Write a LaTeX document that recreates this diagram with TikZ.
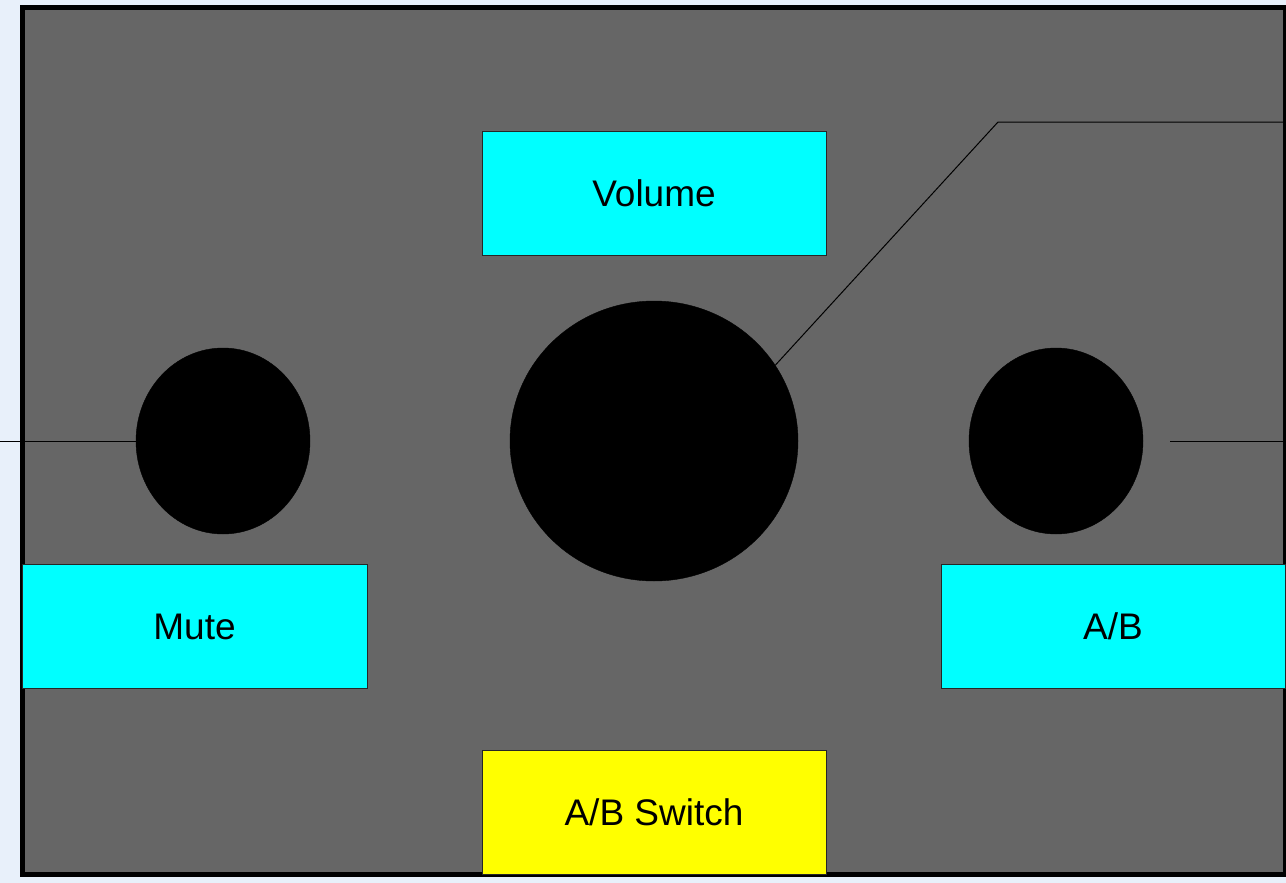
\documentclass[tikz,border=0pt]{standalone}
\usepackage{fontspec}
\setmainfont{Liberation Sans}
\usetikzlibrary{shapes.geometric}
\definecolor{pagebg}{HTML}{E8F0FA}
\definecolor{panelgray}{HTML}{666666}
\definecolor{labelcyan}{HTML}{00FFFF}
\definecolor{labelyellow}{HTML}{FFFF00}
\begin{document}
\begin{tikzpicture}[x=1pt,y=-1pt,
  labelbox/.style={rectangle,draw=black!85,line width=0.8pt,inner sep=0pt,
    minimum width=344pt,minimum height=124pt,font=\fontsize{37}{44}\selectfont},
  knob/.style={ellipse,fill=black,draw=black,inner sep=0pt},
  wire/.style={draw=black,line width=1pt}]
\useasboundingbox (0,0) rectangle (1286,883);
\fill[pagebg] (0,0) rectangle (1286,883);
\draw[fill=panelgray,line width=5pt] (22.5,7.5) rectangle (1285.5,874.5);
% knobs
\node[knob,minimum width=174pt,minimum height=186pt] (mutek) at (223,441) {};
\node[knob,minimum width=288pt,minimum height=280pt] (volk) at (654,441) {};
\node[knob,minimum width=174pt,minimum height=186pt] (abk) at (1056,441) {};
% labels
\node[labelbox,fill=labelcyan] (volume) at (654,193) {Volume};
\node[labelbox,fill=labelcyan,minimum width=345pt] (mute) at (194.5,626.5) {Mute};
\node[labelbox,fill=labelcyan] (ab) at (1113,626.5) {A/B};
\node[labelbox,fill=labelyellow] (abswitch) at (654,812) {A/B Switch};
% connectors
\coordinate (lft) at (0,441);
\coordinate (rgtA) at (1170,441);
\coordinate (rgtB) at (1284,441);
\coordinate (bend) at (998,122);
\coordinate (topR) at (1284,122);
\draw[wire] (lft) -- (mutek.west);
\draw[wire] (rgtA) -- (rgtB);
\draw[wire] (volk.32.8) -- (bend) -- (topR);
\end{tikzpicture}
\end{document}
